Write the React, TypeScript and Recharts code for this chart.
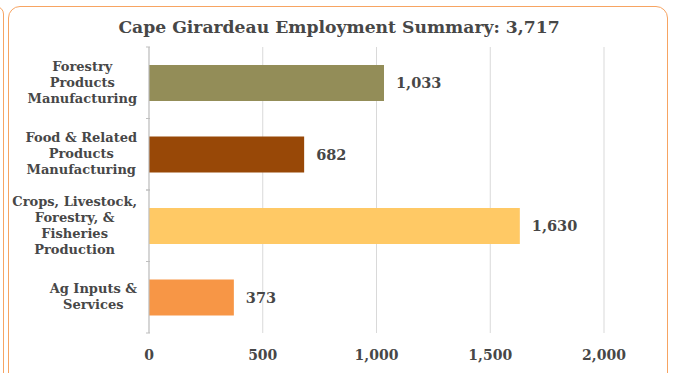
import React from 'react';
import { BarChart, Bar, XAxis, YAxis, CartesianGrid, LabelList, Cell } from 'recharts';

const categories = [
  'Forestry Products Manufacturing',
  'Food & Related Products Manufacturing',
  'Crops, Livestock, Forestry, & Fisheries Production',
  'Ag Inputs & Services',
];
const labelLines = [
  ['Forestry', 'Products', 'Manufacturing'],
  ['Food & Related', 'Products', 'Manufacturing'],
  ['Crops, Livestock,', 'Forestry, &', 'Fisheries', 'Production'],
  ['Ag Inputs &', 'Services'],
];
const employment = [1033, 682, 1630, 373];
const barColors = ['#938D58', '#984807', '#FFC965', '#F79646'];
const xTicks = [0, 500, 1000, 1500, 2000];

const data = categories.map((name, i) => ({ name, value: employment[i], lines: labelLines[i] }));

const FONT = '"DejaVu Serif", Georgia, serif';
const TEXT = '#474747';
const LABEL_SIZE = 13;
const CHART_H = 373;
const MARGIN_TOP = 47;
const X_AXIS_H = 30;
const MARGIN_BOTTOM = 10;
const BAND = (CHART_H - MARGIN_TOP - MARGIN_BOTTOM - X_AXIS_H) / categories.length;

const fmt = (v: number) => v.toLocaleString('en-US');

// measure text so each wrapped label block is right-aligned with centred lines (Excel style)
let ctx: CanvasRenderingContext2D | null = null;
const textWidth = (s: string) => {
  if (!ctx) ctx = document.createElement('canvas').getContext('2d');
  if (!ctx) return s.length * 7;
  ctx.font = `bold ${LABEL_SIZE}px ${FONT}`;
  return ctx.measureText(s).width;
};

const CategoryTick = (props: any) => {
  const { x, y, payload, index } = props;
  const lines: string[] = data[index]?.lines ?? [payload.value];
  const lh = 16;
  const startY = y - ((lines.length - 1) * lh) / 2;
  const blockW = Math.max(...lines.map(textWidth));
  const cx = x - 4 - blockW / 2;
  return (
    <g>
      <line x1={x + 5} x2={x + 9} y1={y - BAND / 2} y2={y - BAND / 2} stroke="#BFBFBF" />
      <line x1={x + 5} x2={x + 9} y1={y + BAND / 2} y2={y + BAND / 2} stroke="#BFBFBF" />
      {lines.map((l, i) => (
        <text
          key={i}
          x={cx}
          y={startY + i * lh}
          dy={4}
          textAnchor="middle"
          fill={TEXT}
          fontFamily={FONT}
          fontWeight="bold"
          fontSize={LABEL_SIZE}
        >
          {l}
        </text>
      ))}
    </g>
  );
};

export default function App() {
  return (
    <div style={{ position: 'absolute', left: 0, top: 0, width: 673, height: 373, overflow: 'hidden', background: '#fff' }}>
      <div style={{ position: 'absolute', left: -12, top: 6, width: 14, height: 400, border: '1.5px solid #F7A462', borderRadius: 12 }} />
      <div style={{ position: 'absolute', left: 8, top: 6, width: 658, height: 400, border: '1.5px solid #F7A462', borderRadius: 12 }} />
      <div
        style={{
          position: 'absolute',
          left: 8,
          top: 17,
          width: 662,
          textAlign: 'center',
          fontFamily: FONT,
          fontWeight: 'bold',
          fontSize: 17.2,
          color: TEXT,
        }}
      >
        Cape Girardeau Employment Summary: 3,717
      </div>
      <div style={{ position: 'absolute', left: 0, top: 0 }}>
        <BarChart
          width={673}
          height={CHART_H}
          data={data}
          layout="vertical"
          margin={{ top: MARGIN_TOP, right: 69, bottom: MARGIN_BOTTOM, left: 0 }}
          barCategoryGap="25%"
        >
          <CartesianGrid horizontal={false} stroke="#D9D9D9" />
          <XAxis
            type="number"
            domain={[0, 2000]}
            ticks={xTicks}
            height={X_AXIS_H}
            axisLine={false}
            tickLine={false}
            tickMargin={11}
            tickFormatter={fmt}
            tick={{ fill: TEXT, fontFamily: FONT, fontWeight: 'bold', fontSize: 14 }}
          />
          <YAxis
            type="category"
            dataKey="name"
            width={149}
            axisLine={{ stroke: '#BFBFBF' }}
            tickLine={false}
            tick={<CategoryTick />}
            interval={0}
          />
          <Bar dataKey="value" isAnimationActive={false}>
            {data.map((d, i) => (
              <Cell key={d.name} fill={barColors[i]} />
            ))}
            <LabelList
              dataKey="value"
              position="right"
              offset={12}
              formatter={(v: any) => fmt(Number(v))}
              fill={TEXT}
              fontFamily={FONT}
              fontWeight="bold"
              fontSize={14.5}
            />
          </Bar>
        </BarChart>
      </div>
    </div>
  );
}
